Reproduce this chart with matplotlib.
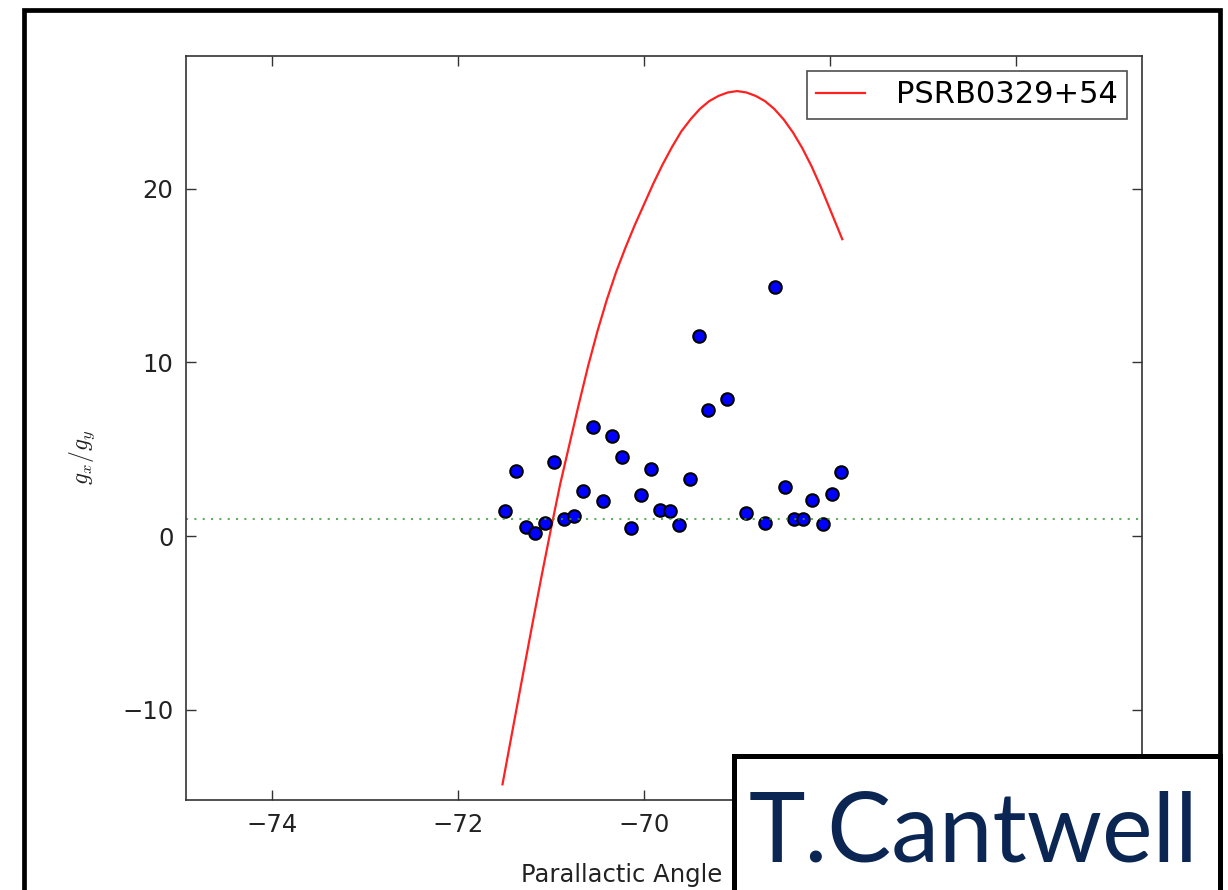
import matplotlib
matplotlib.use("Agg")
import matplotlib.pyplot as plt
from matplotlib.patches import Rectangle

angle = [-71.49, -71.38, -71.27, -71.17, -71.06, -70.97, -70.86, -70.75, -70.65,
         -70.55, -70.44, -70.34, -70.24, -70.14, -70.03, -69.93, -69.83, -69.72,
         -69.62, -69.51, -69.41, -69.31, -69.11, -68.90, -68.70, -68.59, -68.49,
         -68.39, -68.29, -68.19, -68.08, -67.98, -67.88]
ratio = [1.42, 3.73, 0.50, 0.16, 0.73, 4.24, 0.96, 1.17, 2.57,
         6.30, 2.03, 5.78, 4.57, 0.46, 2.36, 3.84, 1.50, 1.44,
         0.65, 3.27, 11.54, 7.28, 7.89, 1.32, 0.77, 14.34, 2.84,
         0.98, 0.98, 2.07, 0.69, 2.44, 3.71]

# Model curve for the pulsar
model_angle = [-71.52, -71.43, -71.35, -71.27, -71.20, -71.10, -71.00, -70.90,
               -70.80, -70.70, -70.60, -70.50, -70.40, -70.30, -70.20, -70.10,
               -70.00, -69.90, -69.80, -69.70, -69.60, -69.50, -69.40, -69.30,
               -69.20, -69.10, -69.00, -68.90, -68.80, -68.70, -68.60, -68.50,
               -68.40, -68.30, -68.20, -68.10, -68.00, -67.87]
model_ratio = [-14.3, -11.7, -9.4, -7.1, -5.1, -2.3, 0.4, 3.0,
               5.3, 7.6, 9.8, 11.8, 13.6, 15.2, 16.6, 17.9,
               19.1, 20.3, 21.4, 22.4, 23.3, 24.0, 24.6, 25.05,
               25.35, 25.55, 25.63, 25.55, 25.35, 25.05, 24.6, 24.0,
               23.25, 22.35, 21.3, 20.1, 18.8, 17.1]

W, H = 1228, 890
plt.rcParams['mathtext.fontset'] = 'cm'
fig = plt.figure(figsize=(W / 100, H / 100), dpi=100)
ax = fig.add_axes([186 / W, 1 - 800 / H, (1142 - 186) / W, (800 - 56) / H])

ax.plot(model_angle, model_ratio, color='#ff2020', lw=1.6, label='PSRB0329+54')
ax.plot(angle, ratio, 'o', color='blue', mec='black', mew=1.5, ms=9, ls='none')
ax.axhline(1, color='#3a9a3a', lw=1.5, dashes=(1, 3), alpha=0.8)

ax.set_xlim(-74.92, -64.65)
ax.set_ylim(-15.2, 27.65)
ax.set_xticks([-74, -72, -70, -68, -66])
ax.set_yticks([-10, 0, 10, 20])
ax.set_xticklabels(['\u221274', '\u221272', '\u221270', '\u221268', '\u221266'])
ax.set_yticklabels(['\u221210', '0', '10', '20'])
ax.tick_params(direction='in', length=7, width=1, top=True, right=True,
               labelsize=17.5, labelcolor='#222222', color='#333333', pad=9)
for s in ax.spines.values():
    s.set_color('#333333')
    s.set_linewidth(1.2)

ax.set_xlabel('Parallactic Angle (degrees)', fontsize=17.5, color='#222222')
ax.xaxis.label.set_ha('left')
ax.xaxis.set_label_coords((521 - 186) / (1142 - 186), -0.085)
ax.set_ylabel('$g_x/g_y$', fontsize=17, color='#222222')
ax.yaxis.set_label_coords((97 - 186) / (1142 - 186), 0.46)

leg = ax.legend(loc='upper right', fontsize=22, fancybox=False, handlelength=1.6,
                handletextpad=1.0, borderpad=0.3, borderaxespad=0.5)
leg.get_frame().set_edgecolor('#222222')
leg.get_frame().set_linewidth(1.2)

# outer frame
fig.add_artist(Rectangle((24 / W, -0.1), (1219.5 - 24) / W, 1.1 - 9.5 / H,
                         transform=fig.transFigure, fill=False, ec='black',
                         lw=3.4, zorder=5, clip_on=False))

# name box over the bottom right
fig.add_artist(Rectangle((733.5 / W, -0.1), (1219.5 - 733.5) / W, 0.1 + 1 - 756.5 / H,
                         transform=fig.transFigure, fc='white', ec='black',
                         lw=3.6, zorder=10, clip_on=False))
fig.text(749 / W, 1 - 861 / H, 'T.Cantwell', fontsize=69, family='Lato',
         color='#0b2653', va='baseline', ha='left', zorder=11)

fig.savefig('out.png', dpi=100)
